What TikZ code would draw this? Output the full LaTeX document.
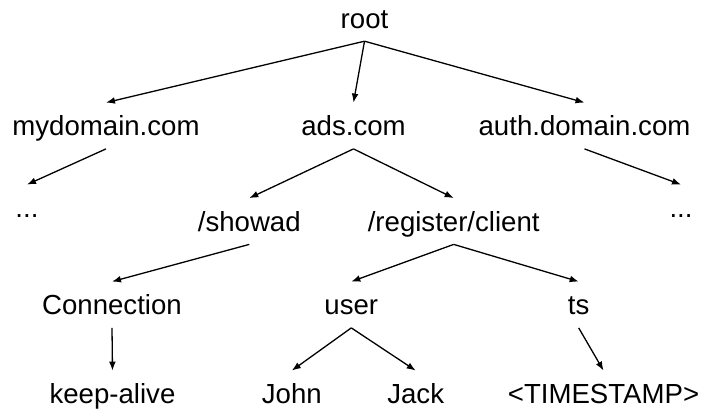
\documentclass[tikz,border=0pt]{standalone}
\usepackage{fontspec}
\setmainfont{Liberation Sans}
\usetikzlibrary{arrows.meta}
\begin{document}
\begin{tikzpicture}
[x=0.5pt,y=-0.5pt,
 treenode/.style={anchor=base,inner xsep=0pt,inner ysep=3.25pt,
   text height=13.25pt,text depth=3pt,font=\fontsize{13.8pt}{16pt}\selectfont},
 edge/.style={line width=0.65pt,-{Latex[length=4.5pt,width=3.4pt]}}]
\useasboundingbox (0,0) rectangle (702,410);
%% the levels of the tree
\node[treenode] (root) at (364.5,28.3) {root};
\node[treenode] (md) at (106,136) {mydomain.com};
\node[treenode] (ads) at (353.5,136) {ads.com};
\node[treenode] (auth) at (584.5,136) {auth.domain.com};
\node[treenode] (dotsl) at (27,218) {...};
\node[treenode] (showad) at (249.3,231.5) {/showad};
\node[treenode] (reg) at (453.7,231.5) {/register/client};
\node[treenode] (dotsr) at (681,218) {...};
\node[treenode] (conn) at (112,315) {Connection};
\node[treenode] (user) at (351.3,315) {user};
\node[treenode] (ts) at (578.7,315) {ts};
\node[treenode] (keep) at (112.5,404) {keep-alive};
\node[treenode] (john) at (291.8,404) {John};
\node[treenode] (jack) at (415.7,404) {Jack};
\node[treenode] (stamp) at (603.5,404) {<TIMESTAMP>};
%% the arrows between them
\foreach \from/\to in {root/md, root/ads, root/auth, md/dotsl, ads/showad,
  ads/reg, auth/dotsr, showad/conn, reg/user, reg/ts, conn/keep,
  user/john, user/jack, ts/stamp} {
  \draw[edge] (\from.south) -- (\to.north);
}
\end{tikzpicture}
\end{document}
